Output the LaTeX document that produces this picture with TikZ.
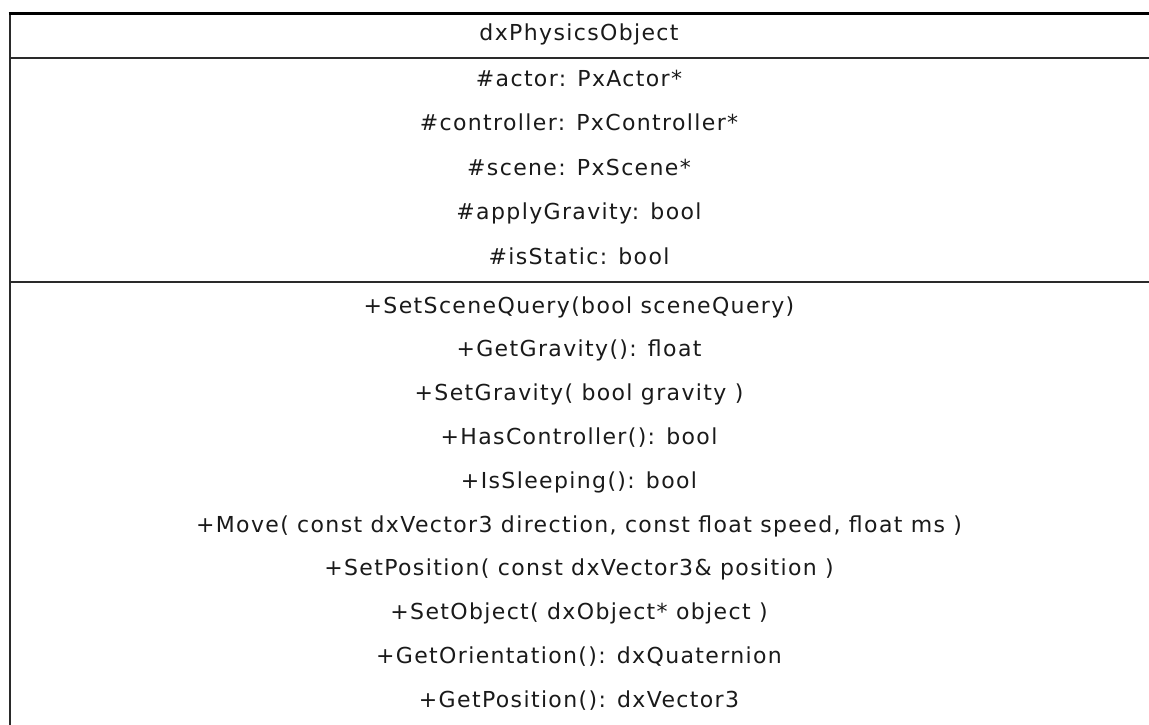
\documentclass[tikz,border=0pt]{standalone}
\usepackage{fontspec}
\setmainfont{DejaVu Sans}
\newfontfamily\umlfont[LetterSpace=6.2]{DejaVu Sans}
\definecolor{umltext}{HTML}{1A1A1A}
\definecolor{umlline}{HTML}{2A2A2A}
\tikzset{
  umlrow/.style={anchor=base, inner sep=0pt, font=\umlfont\fontsize{22}{25}\selectfont, text=umltext},
  frame/.style={draw=black, line width=3pt},
  divider/.style={draw=umlline, line width=2pt},
}
\begin{document}
\begin{tikzpicture}[x=1pt,y=-1pt]
\useasboundingbox (0,0) rectangle (1149,724);
\fill[white] (0,0) rectangle (1149,724);
\begin{scope}
\clip (0,0) rectangle (1149,724);
\draw[divider] (9.5,13) -- (9.5,760);
\draw[divider] (9.5,58) -- (1170,58);
\draw[divider] (9.5,282) -- (1170,282);
\draw[frame] (8.5,13) -- (1170,13);
\end{scope}
\def\cx{579}
\node[umlrow] (title) at (\cx,40.5) {dxPhysicsObject};
\node[umlrow] (a1) at (\cx,86) {\#actor: PxActor*};
\node[umlrow] (a2) at (\cx,130.5) {\#controller: PxController*};
\node[umlrow] (a3) at (\cx,175) {\#scene: PxScene*};
\node[umlrow] (a4) at (\cx,219.5) {\#applyGravity: bool};
\node[umlrow] (a5) at (\cx,264) {\#isStatic: bool};
\node[umlrow] (m1) at (\cx,313) {+SetSceneQuery(bool sceneQuery)};
\node[umlrow] (m2) at (\cx,356.8) {+GetGravity(): float};
\node[umlrow] (m3) at (\cx,400.6) {+SetGravity( bool gravity )};
\node[umlrow] (m4) at (\cx,444.4) {+HasController(): bool};
\node[umlrow] (m5) at (\cx,488.2) {+IsSleeping(): bool};
\node[umlrow] (m6) at (\cx,532) {+Move( const dxVector3 direction, const float speed, float ms )};
\node[umlrow] (m7) at (\cx,575.8) {+SetPosition( const dxVector3\& position )};
\node[umlrow] (m8) at (\cx,619.6) {+SetObject( dxObject* object )};
\node[umlrow] (m9) at (\cx,663.4) {+GetOrientation(): dxQuaternion};
\node[umlrow] (m10) at (\cx,707.2) {+GetPosition(): dxVector3};
\end{tikzpicture}
\end{document}
